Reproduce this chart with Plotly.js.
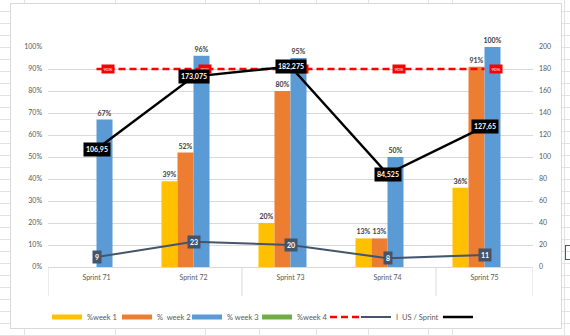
<!DOCTYPE html>
<html>
<head>
<meta charset="utf-8">
<script src="https://cdn.plot.ly/plotly-3.0.1.min.js"></script>
<style>
  html, body { margin: 0; padding: 0; }
  body {
    width: 570px; height: 336px; position: relative; overflow: hidden;
    background: #ffffff repeating-linear-gradient(to bottom, transparent 0px, transparent 11px, #e2e2e2 11px, #e2e2e2 12px);
  }
  .vline { position: absolute; top: 0; width: 1px; height: 336px; background: #e2e2e2; }
  #frame { position: absolute; left: 10px; top: 3px; width: 550px; height: 324px; background: #fff; border: 1px solid #d9d9d9; }
  #cell { position: absolute; left: 565px; top: 245px; width: 10px; height: 13px; border: 1.5px solid #217346; }
  #chart { position: absolute; left: 0; top: 0; width: 570px; height: 336px; }
</style>
</head>
<body>
<div class="vline" style="left:24px"></div>
<div class="vline" style="left:115px"></div>
<div class="vline" style="left:205px"></div>
<div class="vline" style="left:259px"></div>
<div class="vline" style="left:316px"></div>
<div class="vline" style="left:368px"></div>
<div class="vline" style="left:428px"></div>
<div class="vline" style="left:452px"></div>
<div class="vline" style="left:564px"></div>
<div id="cell"></div>
<div id="frame"></div>
<div id="chart"></div>
<script>
// ---- data ----
const categories = ['Sprint 71', 'Sprint 72', 'Sprint 73', 'Sprint 74', 'Sprint 75'];
const week1 = [null, 0.39, 0.20, 0.13, 0.36];
const week2 = [null, 0.52, 0.80, 0.13, 0.91];
const week3 = [0.67, 0.96, 0.95, 0.50, 1.00];
const week4 = [null, null, null, null, null];
const target = [0.9, 0.9, 0.9, 0.9, 0.9];
const usPerSprint = [106.95, 173.075, 182.275, 84.525, 127.65];
const usCount = [9, 23, 20, 8, 11];
const seriesNames = ['%week 1', '%\u00a0\u00a0week 2', '% week 3', '%week 4'];

// ---- style ----
const FONT = 'Lato, "Liberation Sans", sans-serif';
const colors = ['#FFC000', '#ED7D31', '#5B9BD5', '#70AD47'];
const slate = '#44546A';
const weeks = [week1, week2, week3, week4];

const traces = [];
weeks.forEach((vals, i) => {
  traces.push({
    type: 'bar', x: categories, y: vals, name: seriesNames[i],
    marker: { color: colors[i] },
    texttemplate: '<b>%{y:.0%}</b>', textposition: 'outside',
    textfont: { family: FONT, size: 7, color: '#404040' },
    constraintext: 'none', cliponaxis: false,
    showlegend: false, hoverinfo: 'skip'
  });
});
// legend entries for bars (Excel-like line swatches)
weeks.forEach((vals, i) => {
  traces.push({
    type: 'scatter', mode: 'lines', x: [null], y: [null], name: seriesNames[i],
    line: { color: colors[i], width: 5 }, legend: 'legend', showlegend: true
  });
});
traces.push({
  type: 'scatter', mode: 'lines', x: categories, y: target, name: '',
  line: { color: '#FF0000', width: 2.5, dash: '7px,4px' },
  legend: 'legend2', cliponaxis: false
});
traces.push({
  type: 'scatter', mode: 'lines', x: categories, y: usCount, yaxis: 'y2',
  name: 'I\u00a0\u00a0US / Sprint',
  line: { color: slate, width: 2 }, legend: 'legend3', cliponaxis: false
});
traces.push({
  type: 'scatter', mode: 'lines', x: categories, y: usPerSprint, yaxis: 'y2',
  name: '', line: { color: '#000000', width: 2.5 }, legend: 'legend3', cliponaxis: false
});

const annotations = [];
categories.forEach((c, i) => {
  annotations.push({
    x: c, y: target[i], xref: 'x', yref: 'y', text: Math.round(target[i] * 100) + '%',
    showarrow: false, bgcolor: '#FF0000', borderpad: 1.5, xshift: 11,
    font: { family: FONT, size: 4.5, color: '#ffffff' }
  });
  annotations.push({
    x: c, y: usPerSprint[i], xref: 'x', yref: 'y2',
    text: '<b>' + String(usPerSprint[i]).replace('.', ',') + '</b>',
    showarrow: false, bgcolor: '#000000', borderpad: 2,
    font: { family: FONT, size: 7, color: '#ffffff' }
  });
  annotations.push({
    x: c, y: usCount[i], xref: 'x', yref: 'y2', text: '<b>' + usCount[i] + '</b>',
    showarrow: false, bgcolor: slate, borderpad: 2,
    font: { family: FONT, size: 7, color: '#ffffff' }
  });
});

const shapes = [-0.5, 1.5, 3.5, 4.5].map(v => ({
  type: 'line', xref: 'x', yref: 'paper', x0: v, x1: v, y0: 0, y1: -0.132,
  line: { color: '#d9d9d9', width: 1 }
}));

const legendBase = {
  orientation: 'h', yanchor: 'middle', y: -0.227, xanchor: 'left',
  font: { family: FONT, size: 7.5, color: '#595959' },
  bgcolor: 'rgba(0,0,0,0)', borderwidth: 0, itemclick: false
};

const layout = {
  width: 570, height: 336,
  margin: { l: 48, r: 37, t: 47, b: 69, autoexpand: false },
  paper_bgcolor: 'rgba(0,0,0,0)', plot_bgcolor: 'rgba(0,0,0,0)',
  font: { family: FONT, size: 7, color: '#595959' },
  barmode: 'group', bargap: 0.34, bargroupgap: 0,
  xaxis: {
    type: 'category', range: [-0.5, 4.5], showgrid: false, zeroline: false,
    showline: true, linecolor: '#d9d9d9', linewidth: 1, ticks: '',
    tickfont: { family: FONT, size: 7, color: '#595959' }, ticklabelstandoff: 4
  },
  yaxis: {
    range: [0, 1], dtick: 0.1, tickformat: '.0%', showgrid: true, gridcolor: '#d9d9d9',
    zeroline: false, showline: false, ticks: '',
    tickfont: { family: FONT, size: 7, color: '#595959' }, ticklabelstandoff: 5
  },
  yaxis2: {
    overlaying: 'y', side: 'right', range: [0, 200], dtick: 20, showgrid: false,
    zeroline: false, showline: false, ticks: '',
    tickfont: { family: FONT, size: 7, color: '#595959' }, ticklabelstandoff: 5
  },
  legend: Object.assign({}, legendBase, { x: -0.002, entrywidth: 25 }),
  legend2: Object.assign({}, legendBase, { x: 0.5711, entrywidth: 10 }),
  legend3: Object.assign({}, legendBase, { x: 0.635, entrywidth: 37 }),
  annotations: annotations,
  shapes: shapes,
  showlegend: true
};

Plotly.newPlot('chart', traces, layout, { staticPlot: true, displayModeBar: false });
</script>
</body>
</html>
